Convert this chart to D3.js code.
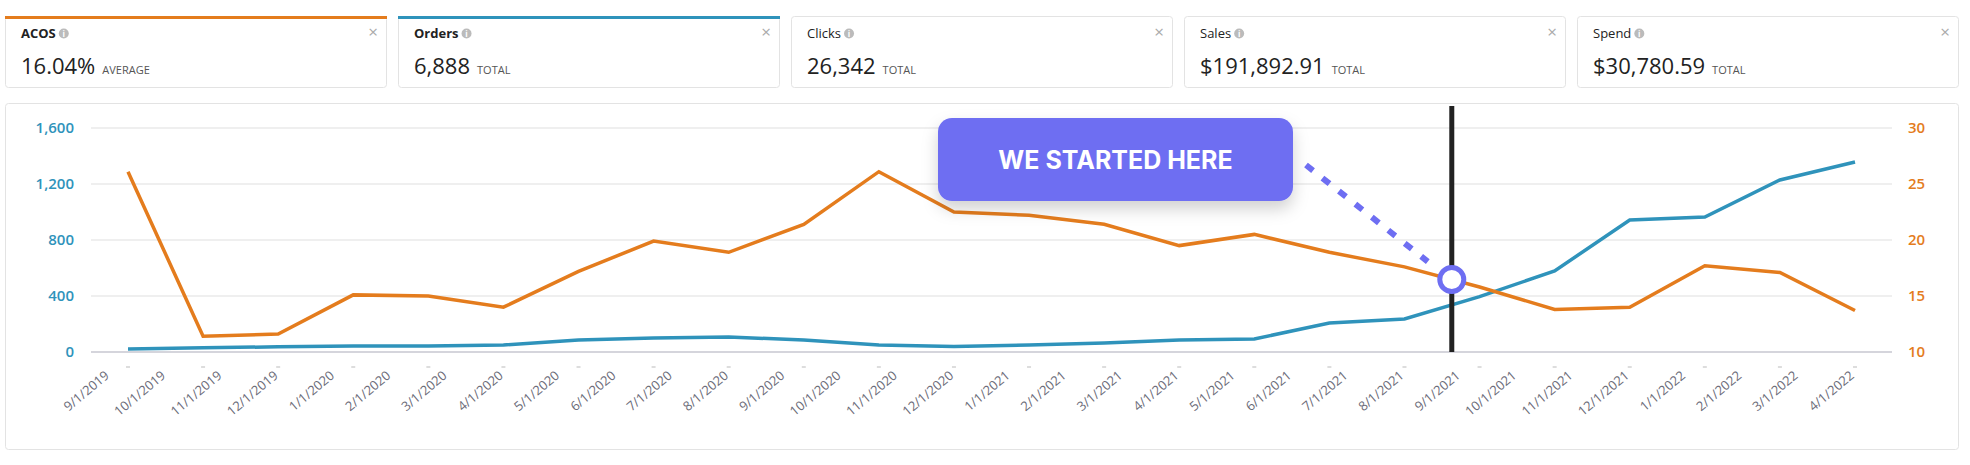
<!DOCTYPE html>
<html><head><meta charset="utf-8">
<script src="https://cdn.jsdelivr.net/npm/d3@7"></script>
<style>body{margin:0;background:#fff;}svg{display:block;}</style>
</head><body>
<svg id="c" width="1970" height="465"></svg>
<script>
const cardTitles = ["ACOS","Orders","Clicks","Sales","Spend"];
const cardValues = ["16.04%","6,888","26,342","$191,892.91","$30,780.59"];
const cardUnits = ["AVERAGE","TOTAL","TOTAL","TOTAL","TOTAL"];
const cardColors = ["#e47c1d","#2f93bb",null,null,null];
const dateLabels = ["9/1/2019","10/1/2019","11/1/2019","12/1/2019","1/1/2020","2/1/2020","3/1/2020","4/1/2020","5/1/2020","6/1/2020","7/1/2020","8/1/2020","9/1/2020","10/1/2020","11/1/2020","12/1/2020","1/1/2021","2/1/2021","3/1/2021","4/1/2021","5/1/2021","6/1/2021","7/1/2021","8/1/2021","9/1/2021","10/1/2021","11/1/2021","12/1/2021","1/1/2022","2/1/2022","3/1/2022","4/1/2022"];
const acos = [26.1,11.4,11.6,15.1,15.0,14.0,17.2,19.9,18.9,21.4,26.1,22.5,22.2,21.4,19.5,20.5,18.9,17.6,15.8,13.8,14.0,17.7,17.1,13.7];
const orders = [21,30,37,43,43,50,86,100,107,86,50,40,50,64,86,93,207,236,395,579,943,964,1229,1357];
const leftTicks = [0,400,800,1200,1600];
const rightTicks = [10,15,20,25,30];
const startIndex = 17.63;
const annotationText = "WE STARTED HERE";

const svg = d3.select("#c");
const font = "'Open Sans', Lato, sans-serif";
const orange = "#e47c1d", blue = "#2f93bb", purple = "#6e6ef2";

// cards
const card = svg.selectAll("g.card").data(cardTitles).join("g")
  .attr("transform",(d,i)=>`translate(${5+i*393},16)`);
card.append("rect").attr("x",0.5).attr("y",0.5).attr("width",381).attr("height",71).attr("rx",3)
  .attr("fill","#fff").attr("stroke","#e3e3e3");
card.filter((d,i)=>cardColors[i]).append("rect").attr("width",382).attr("height",3)
  .attr("fill",(d,i)=>cardColors[cardTitles.indexOf(d)]);
card.append("text").attr("x",16).attr("y",22).attr("font-family",font).attr("font-size",13)
  .attr("font-weight",(d,i)=>i<2?700:400).attr("fill","#222").text(d=>d);
card.each(function(d,i){
  const g=d3.select(this);
  const tw = g.select("text").node().getComputedTextLength();
  g.append("circle").attr("cx",16+tw+8).attr("cy",17.5).attr("r",5).attr("fill","#bbb");
  g.append("text").attr("x",16+tw+8).attr("y",20.5).attr("text-anchor","middle").attr("font-size",8)
   .attr("font-family",font).attr("font-weight",700).attr("fill","#fff").text("i");
  const v=g.append("text").attr("x",16).attr("y",58).attr("font-family",font).attr("font-size",22)
   .attr("fill","#222").text(cardValues[i]);
  const vw=v.node().getComputedTextLength();
  g.append("text").attr("x",16+vw+7).attr("y",58).attr("font-family",font).attr("font-size",11)
   .attr("fill","#555").text(cardUnits[i]);
  g.append("text").attr("x",368).attr("y",22).attr("text-anchor","middle").attr("font-family",font)
   .attr("font-size",17).attr("fill","#aaa").text("×");
});

// chart panel
svg.append("rect").attr("x",5.5).attr("y",103.5).attr("width",1953).attr("height",346).attr("rx",3)
  .attr("fill","#fff").attr("stroke","#e3e3e3");

const x = d3.scaleLinear().domain([0,acos.length-1]).range([128,1855]);
const xl = d3.scalePoint().domain(dateLabels).range([110,1855]);
const yL = d3.scaleLinear().domain([0,1600]).range([352,128]);
const yR = d3.scaleLinear().domain([10,30]).range([352,128]);

svg.append("g").selectAll("line").data(leftTicks).join("line")
  .attr("x1",91).attr("x2",1892).attr("y1",d=>yL(d)).attr("y2",d=>yL(d))
  .attr("stroke",(d)=>d===0?"#d5d5dc":"#efefef").attr("stroke-width",2);

const gl = svg.append("g").attr("transform","translate(74,0)").call(d3.axisLeft(yL).tickValues(leftTicks).tickSize(0).tickPadding(0));
gl.select(".domain").remove();
gl.selectAll("text").attr("font-family",font).attr("font-size",15).attr("font-weight",600).attr("fill",blue);
const gr = svg.append("g").attr("transform","translate(1908,0)").call(d3.axisRight(yR).tickValues(rightTicks).tickSize(0).tickPadding(0));
gr.select(".domain").remove();
gr.selectAll("text").attr("font-family",font).attr("font-size",15).attr("font-weight",600).attr("fill",orange);

// small ticks
svg.append("g").selectAll("line").data(acos).join("line")
  .attr("x1",(d,i)=>x(i)-2).attr("x2",(d,i)=>x(i)+2).attr("y1",367).attr("y2",367)
  .attr("stroke","#bbb").attr("stroke-width",1);

// x labels
svg.append("g").selectAll("text").data(dateLabels).join("text")
  .attr("transform",d=>`translate(${xl(d)},377) rotate(-40)`)
  .attr("text-anchor","end").attr("font-family",font).attr("font-size",13).attr("fill","#6b6b78").text(d=>d);

// lines
svg.append("path").datum(orders).attr("fill","none").attr("stroke",blue).attr("stroke-width",3.5)
  .attr("d",d3.line().x((d,i)=>x(i)).y(d=>yL(d)));
svg.append("path").datum(acos).attr("fill","none").attr("stroke",orange).attr("stroke-width",3.5)
  .attr("d",d3.line().x((d,i)=>x(i)).y(d=>yR(d)));

// annotation
const sx = x(startIndex);
const i0 = Math.floor(startIndex), f = startIndex-i0;
const sv = acos[i0]*(1-f)+acos[i0+1]*f;
svg.append("line").attr("x1",sx).attr("x2",sx).attr("y1",106).attr("y2",352).attr("stroke","#222").attr("stroke-width",5);
const defs = svg.append("defs");
const flt = defs.append("filter").attr("id","sh").attr("x","-20%").attr("y","-30%").attr("width","140%").attr("height","170%");
flt.append("feDropShadow").attr("dx",0).attr("dy",8).attr("stdDeviation",8).attr("flood-color","#000").attr("flood-opacity",0.18);
svg.append("rect").attr("x",938).attr("y",118).attr("width",355).attr("height",83).attr("rx",14)
  .attr("fill",purple).attr("filter","url(#sh)");
svg.append("text").attr("x",1115.5).attr("y",169).attr("text-anchor","middle").attr("font-family","Inter, 'Open Sans', sans-serif")
  .attr("font-weight",700).attr("font-size",25).attr("fill","#fff").text(annotationText);
svg.append("line").attr("x1",1306).attr("y1",165).attr("x2",sx-24).attr("y2",yR(sv)-18)
  .attr("stroke",purple).attr("stroke-width",6).attr("stroke-dasharray","9 12");
svg.append("circle").attr("cx",sx).attr("cy",yR(sv)).attr("r",12).attr("fill","#fff").attr("stroke",purple).attr("stroke-width",5);
</script>
</body></html>
